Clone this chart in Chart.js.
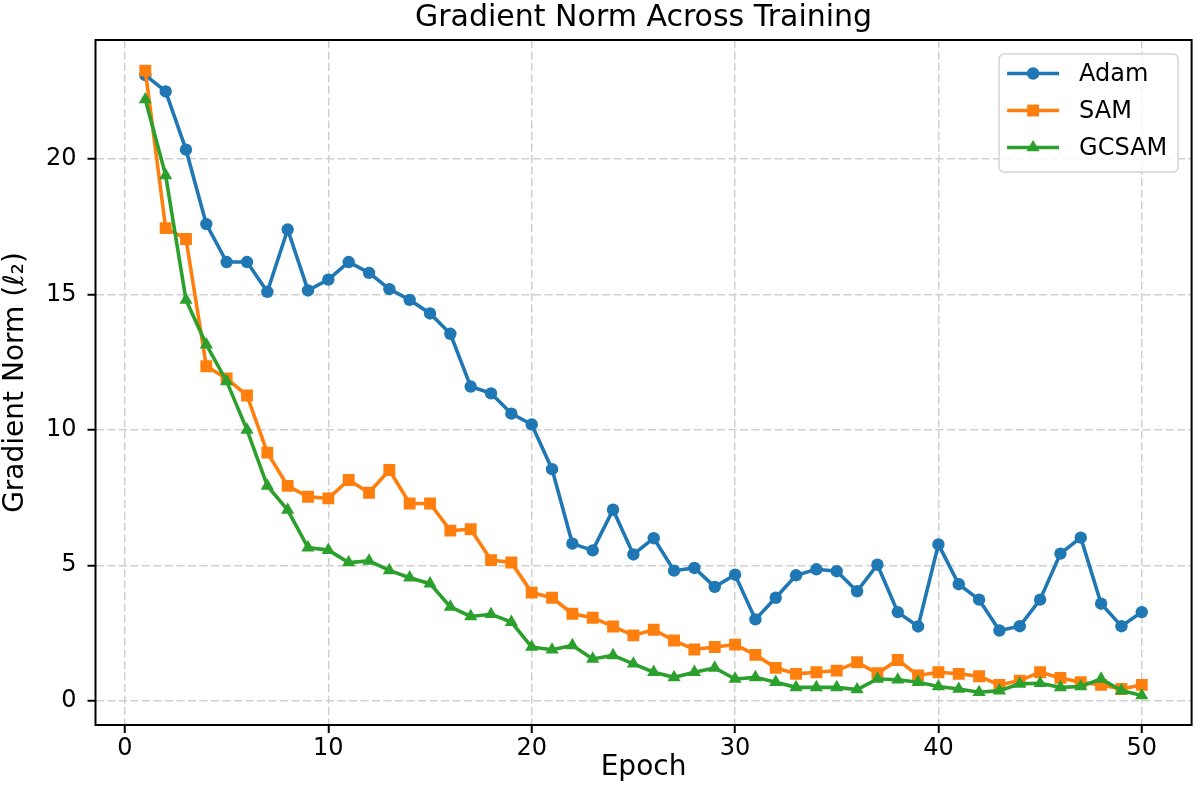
<!DOCTYPE html>
<html>
<head>
<meta charset="utf-8">
<title>Gradient Norm Across Training</title>
<script src="https://cdn.jsdelivr.net/npm/chart.js@4.4.1/dist/chart.umd.min.js"></script>
<style>
  html, body { margin: 0; padding: 0; background: #fff; }
  #wrap { width: 1200px; height: 811px; }
</style>
</head>
<body>
<div id="wrap"><canvas id="gradChart" width="1200" height="811"></canvas></div>
<script>
// Data
const epochs = [
  1, 2, 3, 4, 5, 6, 7, 8, 9, 10,
  11, 12, 13, 14, 15, 16, 17, 18, 19, 20,
  21, 22, 23, 24, 25, 26, 27, 28, 29, 30,
  31, 32, 33, 34, 35, 36, 37, 38, 39, 40,
  41, 42, 43, 44, 45, 46, 47, 48, 49, 50,
];
const adamNorm = [
  23.1, 22.5, 20.35, 17.6, 16.2, 16.2, 15.1, 17.4, 15.15, 15.55,
  16.2, 15.8, 15.2, 14.8, 14.3, 13.55, 11.6, 11.35, 10.6, 10.2,
  8.55, 5.8, 5.55, 7.05, 5.4, 6.0, 4.8, 4.9, 4.2, 4.65,
  3.0, 3.8, 4.63, 4.85, 4.78, 4.04, 5.02, 3.27, 2.74, 5.77,
  4.3, 3.73, 2.59, 2.75, 3.73, 5.43, 6.02, 3.58, 2.75, 3.27,
];
const samNorm = [
  23.27, 17.45, 17.05, 12.35, 11.9, 11.27, 9.16, 7.93, 7.53, 7.47,
  8.15, 7.68, 8.52, 7.28, 7.28, 6.28, 6.33, 5.19, 5.1, 3.99,
  3.8, 3.21, 3.06, 2.74, 2.41, 2.62, 2.22, 1.89, 1.98, 2.07,
  1.69, 1.21, 0.99, 1.05, 1.11, 1.42, 1.01, 1.5, 0.93, 1.05,
  0.99, 0.9, 0.58, 0.74, 1.05, 0.84, 0.68, 0.58, 0.43, 0.58,
];
const gcsamNorm = [
  22.2, 19.4, 14.8, 13.15, 11.79, 10.0, 7.93, 7.04, 5.65, 5.56,
  5.1, 5.16, 4.81, 4.54, 4.32, 3.46, 3.11, 3.19, 2.9, 1.98,
  1.88, 2.04, 1.54, 1.67, 1.36, 1.05, 0.86, 1.05, 1.21, 0.8,
  0.86, 0.68, 0.49, 0.49, 0.49, 0.41, 0.8, 0.77, 0.68, 0.52,
  0.43, 0.31, 0.37, 0.62, 0.64, 0.49, 0.52, 0.8, 0.37, 0.19,
];
const xTicks = [0, 10, 20, 30, 40, 50];
const yTicks = [0, 5, 10, 15, 20];

const FONT = "'DejaVu Sans', 'Liberation Sans', sans-serif";

function toPoints(values) {
  return values.map((v, i) => ({ x: epochs[i], y: v }));
}

function drawMarker(ctx, style, x, y, r) {
  ctx.beginPath();
  if (style === "rect") {
    const s = Math.SQRT1_2 * r;
    ctx.rect(x - s, y - s, 2 * s, 2 * s);
  } else if (style === "triangle") {
    let rad = 0;
    ctx.moveTo(x + Math.sin(rad) * r, y - Math.cos(rad) * r);
    rad += (2 * Math.PI) / 3;
    ctx.lineTo(x + Math.sin(rad) * r, y - Math.cos(rad) * r);
    rad += (2 * Math.PI) / 3;
    ctx.lineTo(x + Math.sin(rad) * r, y - Math.cos(rad) * r);
    ctx.closePath();
  } else {
    ctx.arc(x, y, r, 0, Math.PI * 2);
  }
  ctx.fill();
}

// matplotlib-like frame (all four spines) and boxed legend
const frameAndLegend = {
  id: "frameAndLegend",
  afterDatasetsDraw(chart) {
    const { ctx, chartArea: a } = chart;
    ctx.save();
    ctx.strokeStyle = "#000";
    ctx.lineWidth = 2;
    ctx.strokeRect(a.left, a.top, a.right - a.left, a.bottom - a.top);

    const box = { x: a.right - 192.5, y: a.top + 14, w: 179, h: 118 };
    ctx.beginPath();
    if (ctx.roundRect) ctx.roundRect(box.x, box.y, box.w, box.h, 5);
    else ctx.rect(box.x, box.y, box.w, box.h);
    ctx.fillStyle = "rgba(255,255,255,0.8)";
    ctx.fill();
    ctx.strokeStyle = "#d4d4d4";
    ctx.lineWidth = 1.5;
    ctx.stroke();

    ctx.font = "24px " + FONT;
    ctx.textBaseline = "middle";
    ctx.textAlign = "left";
    chart.data.datasets.forEach((ds, i) => {
      const y = box.y + 19.5 + i * 37;
      ctx.strokeStyle = ds.borderColor;
      ctx.lineWidth = ds.borderWidth;
      ctx.beginPath();
      ctx.moveTo(box.x + 8, y);
      ctx.lineTo(box.x + 60, y);
      ctx.stroke();
      ctx.fillStyle = ds.backgroundColor;
      drawMarker(ctx, ds.pointStyle, box.x + 34, y, ds.pointRadius);
      ctx.fillStyle = "#000";
      ctx.fillText(ds.label, box.x + 80, y + 1);
    });
    ctx.restore();
  },
};

const ctx = document.getElementById("gradChart").getContext("2d");

new Chart(ctx, {
  type: "line",
  data: {
    datasets: [
      {
        label: "Adam",
        data: toPoints(adamNorm),
        borderColor: "#1f77b4",
        backgroundColor: "#1f77b4",
        borderWidth: 3.6,
        pointStyle: "circle",
        pointRadius: 6.2,
        pointBorderWidth: 0,
        tension: 0,
        order: 3,
      },
      {
        label: "SAM",
        data: toPoints(samNorm),
        borderColor: "#ff7f0e",
        backgroundColor: "#ff7f0e",
        borderWidth: 3.6,
        pointStyle: "rect",
        pointRadius: 8.4,
        pointBorderWidth: 0,
        tension: 0,
        order: 2,
      },
      {
        label: "GCSAM",
        data: toPoints(gcsamNorm),
        borderColor: "#2ca02c",
        backgroundColor: "#2ca02c",
        borderWidth: 3.6,
        pointStyle: "triangle",
        pointRadius: 7.6,
        pointBorderWidth: 0,
        tension: 0,
        order: 1,
      },
    ],
  },
  options: {
    responsive: false,
    animation: false,
    devicePixelRatio: 1,
    layout: { padding: { left: 0, right: 3.5, top: 0, bottom: 0 } },
    plugins: {
      legend: { display: false },
      tooltip: { enabled: false },
      title: {
        display: true,
        text: "Gradient Norm Across Training",
        fullSize: false,
        color: "#000",
        font: { family: FONT, size: 30, weight: "normal", lineHeight: 1.05 },
        padding: { top: 2, bottom: 6.5 },
      },
    },
    scales: {
      x: {
        type: "linear",
        min: -1.45,
        max: 52.45,
        afterBuildTicks: (s) => {
          s.ticks = xTicks.map((v) => ({ value: v }));
        },
        afterFit: (s) => {
          s.height = 86;
        },
        ticks: {
          color: "#000",
          font: { family: FONT, size: 24 },
          padding: 1,
          autoSkip: false,
          maxRotation: 0,
          callback: (v) => String(v),
        },
        grid: {
          color: "#d0d0d0",
          lineWidth: 1.5,
          tickColor: "#000",
          tickLength: 8,
          tickWidth: 2,
          tickBorderDash: [],
        },
        border: { display: false, dash: [8, 3.5] },
        title: {
          display: true,
          text: "Epoch",
          color: "#000",
          font: { family: FONT, size: 28, lineHeight: 1.2 },
          padding: { top: 0, bottom: 26 },
        },
      },
      y: {
        type: "linear",
        min: -0.9,
        max: 24.4,
        afterBuildTicks: (s) => {
          s.ticks = yTicks.map((v) => ({ value: v }));
        },
        afterFit: (s) => {
          s.width = 95.5;
        },
        ticks: {
          color: "#000",
          font: { family: FONT, size: 24 },
          padding: 11,
          callback: (v) => String(v),
        },
        grid: {
          color: "#d0d0d0",
          lineWidth: 1.5,
          tickColor: "#000",
          tickLength: 8,
          tickWidth: 2,
          tickBorderDash: [],
        },
        border: { display: false, dash: [8, 3.5] },
        title: {
          display: true,
          text: "Gradient Norm (ℓ₂)",
          color: "#000",
          font: { family: FONT, size: 28, lineHeight: 1.0 },
          padding: { top: 1.5, bottom: 0 },
        },
      },
    },
  },
  plugins: [frameAndLegend],
});
</script>
</body>
</html>
